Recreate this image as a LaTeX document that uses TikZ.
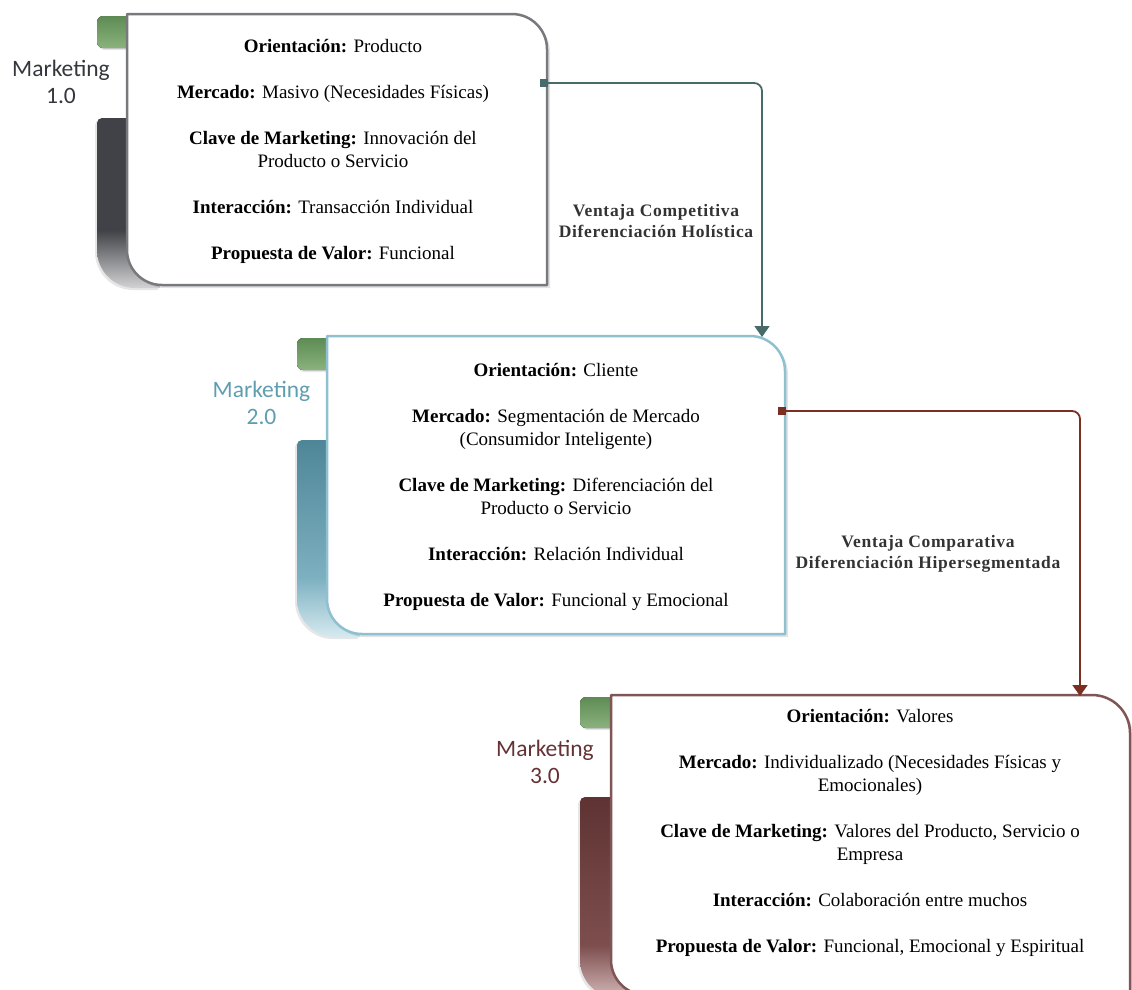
\documentclass[tikz,border=0pt]{standalone}
\usepackage{fontspec}
\setmainfont{Liberation Serif}
\newfontfamily\mkfont{Carlito}
\newfontfamily\lblfont[LetterSpace=4]{Liberation Serif}
\usetikzlibrary{arrows.meta,shadows}
\definecolor{grayborder}{HTML}{77797D}
\definecolor{blueborder}{HTML}{8FC0D0}
\definecolor{redborder}{HTML}{7F5656}
\definecolor{barAhi}{HTML}{414247}
\definecolor{barAlo}{HTML}{D3D3D5}
\definecolor{barBhi}{HTML}{4E8698}
\definecolor{barBmid}{HTML}{7DB0C0}
\definecolor{barBlo}{HTML}{D6EAF0}
\definecolor{barChi}{HTML}{5F3333}
\definecolor{barCmid}{HTML}{7E4E4E}
\definecolor{barClo}{HTML}{D2B8B8}
\definecolor{greenTop}{HTML}{5E8B55}
\definecolor{greenBot}{HTML}{8AB27C}
\definecolor{mkA}{HTML}{34373C}
\definecolor{mkB}{HTML}{5F9DB0}
\definecolor{mkC}{HTML}{653335}
\definecolor{arrA}{HTML}{476B6B}
\definecolor{arrB}{HTML}{7B2E22}
\definecolor{lbl}{HTML}{333333}
\pgfdeclareverticalshading{barA}{100bp}{color(0bp)=(barAlo); color(25bp)=(barAlo); color(42bp)=(barAhi); color(75bp)=(barAhi); color(100bp)=(barAhi)}
\pgfdeclareverticalshading{barB}{100bp}{color(0bp)=(barBlo); color(25bp)=(barBlo); color(40bp)=(barBmid); color(75bp)=(barBhi); color(100bp)=(barBhi)}
\pgfdeclareverticalshading{barC}{100bp}{color(0bp)=(barClo); color(25bp)=(barClo); color(38bp)=(barCmid); color(75bp)=(barChi); color(100bp)=(barChi)}
\tikzset{
  boxtext/.style={align=center, inner sep=0pt, font=\fontsize{19}{23}\selectfont, text=black},
  mklabel/.style={align=center, inner sep=0pt, font=\mkfont\fontsize{23.5}{27}\selectfont},
  arrlabel/.style={align=center, inner sep=0pt, font=\lblfont\bfseries\fontsize{17.5}{21}\selectfont, text=lbl},
  tab/.style={rounded corners=6pt, top color=greenTop, bottom color=greenBot,
    drop shadow={shadow xshift=1.5pt, shadow yshift=-2pt, opacity=0.2, fill=black!50}},
  bar/.style={drop shadow={shadow xshift=-2pt, shadow yshift=-2pt, opacity=0.2, fill=black!50}},
  card/.style={fill=white, line width=2.5pt, line join=round,
    drop shadow={shadow xshift=3pt, shadow yshift=-3pt, opacity=0.22, fill=black!50}},
  conn/.style={line width=1.8pt, rounded corners=8pt,
    {Square[length=8pt,width=8pt]}-{Triangle[length=11pt,width=15pt]}}
}
\begin{document}
\begin{tikzpicture}[x=1pt,y=-1pt]
\useasboundingbox (0,0) rectangle (1132,989);
\clip (0,0) rectangle (1132,989);

% ---------- Marketing 1.0 ----------
\fill[tab] (97,16) rectangle (145,48);
\path[bar, shading=barA] (160,118) -- (102,118) .. controls (99.2,118) and (97,120.2) .. (97,123) -- (97,250) .. controls (97,271) and (114,288) .. (135,288) -- (160,288) -- cycle;
\draw[card, draw=grayborder] (127,14) -- (512,14) .. controls (531.3,14) and (547,29.7) .. (547,49) -- (547,285) -- (162,285) .. controls (142.7,285) and (127,269.3) .. (127,250) -- cycle;
\node[boxtext, anchor=north] (t1) at (333,36.5) {\strut\textbf{Orientación:} Producto\\[23pt]
\textbf{Mercado:} Masivo (Necesidades Físicas)\\[23pt]
\textbf{Clave de Marketing:} Innovación del\\ Producto o Servicio\\[23pt]
\textbf{Interacción:} Transacción Individual\\[23pt]
\textbf{Propuesta de Valor:} Funcional};
\node[mklabel, text=mkA, anchor=north] (m1) at (61,57.6) {\strut Marketing\\1.0};

% ---------- Marketing 2.0 ----------
\fill[tab] (297,338) rectangle (345,370);
\path[bar, shading=barB] (360,440) -- (302,440) .. controls (299.2,440) and (297,442.2) .. (297,445) -- (297,599) .. controls (297,620) and (314,637) .. (335,637) -- (360,637) -- cycle;
\draw[card, draw=blueborder] (327,336) -- (750,336) .. controls (769.3,336) and (785,351.7) .. (785,371) -- (785,634) -- (362,634) .. controls (342.7,634) and (327,618.3) .. (327,599) -- cycle;
\node[boxtext, anchor=north] (t2) at (556,360.4) {\strut\textbf{Orientación:} Cliente\\[23pt]
\textbf{Mercado:} Segmentación de Mercado\\ (Consumidor Inteligente)\\[23pt]
\textbf{Clave de Marketing:} Diferenciación del\\ Producto o Servicio\\[23pt]
\textbf{Interacción:} Relación Individual\\[23pt]
\textbf{Propuesta de Valor:} Funcional y Emocional};
\node[mklabel, text=mkB, anchor=north] (m2) at (261.5,378.6) {\strut Marketing\\2.0};

% ---------- Marketing 3.0 ----------
\fill[tab] (580,697) rectangle (628,728);
\path[bar, shading=barC] (640,797) -- (585,797) .. controls (582.2,797) and (580,799.2) .. (580,802) -- (580,960) .. controls (580,981) and (597,998) .. (618,998) -- (640,998) -- cycle;
\draw[card, draw=redborder] (611,695) -- (1092,695) .. controls (1113,695) and (1130,712) .. (1130,733) -- (1130,995) -- (646,995) .. controls (626.7,995) and (611,979.3) .. (611,960) -- cycle;
\node[boxtext, anchor=north] (t3) at (870,706.4) {\strut\textbf{Orientación:} Valores\\[23pt]
\textbf{Mercado:} Individualizado (Necesidades Físicas y\\ Emocionales)\\[23pt]
\textbf{Clave de Marketing:} Valores del Producto, Servicio o\\ Empresa\\[23pt]
\textbf{Interacción:} Colaboración entre muchos\\[23pt]
\textbf{Propuesta de Valor:} Funcional, Emocional y Espiritual};
\node[mklabel, text=mkC, anchor=north] (m3) at (545,737.6) {\strut Marketing\\3.0};

% ---------- connectors ----------
\coordinate (b1out) at (540,83);
\coordinate (b2in) at (762,337);
\coordinate (b2out) at (778,411);
\coordinate (b3in) at (1080,696);
\draw[conn, draw=arrA] (b1out) -| (b2in);
\draw[conn, draw=arrB] (b2out) -| (b3in);
\node[arrlabel, anchor=north] (l1) at (656,201.3) {\strut Ventaja Competitiva\\Diferenciación Holística};
\node[arrlabel, anchor=north] (l2) at (928,532.3) {\strut Ventaja Comparativa\\Diferenciación Hipersegmentada};
\end{tikzpicture}
\end{document}
